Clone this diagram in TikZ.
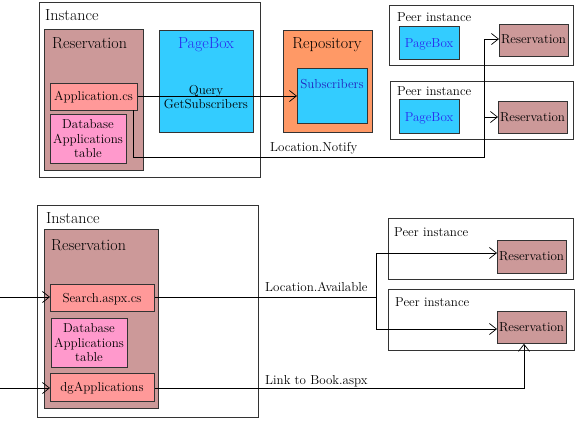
\documentclass[tikz,border=0pt]{standalone}
\usetikzlibrary{arrows.meta}
\definecolor{resv}{HTML}{CC9999}
\definecolor{pagebox}{HTML}{33CCFF}
\definecolor{repo}{HTML}{FF9966}
\definecolor{appcs}{HTML}{FF9999}
\definecolor{dbtab}{HTML}{FF99CC}
\definecolor{pbtext}{HTML}{2A2AEE}
\definecolor{frame}{HTML}{333333}
\tikzset{
 box/.style={draw=frame, line width=0.8pt, inner sep=0pt, anchor=north west},
 big/.style={font=\fontsize{16}{19}\selectfont, inner sep=0pt, anchor=base west},
 small/.style={font=\fontsize{13}{14.5}\selectfont, inner sep=0pt, anchor=base},
 multi/.style={font=\fontsize{13}{14.5}\selectfont, inner sep=0pt, align=center, anchor=center},
 conn/.style={draw=black, line width=0.7pt},
 arr/.style={conn, -{Straight Barb[length=7pt,width=11pt,line width=0.7pt]}}
}
\begin{document}
\begin{tikzpicture}[x=1pt,y=-1pt]
\useasboundingbox (0,0) rectangle (576,432);
% ---------- top part ----------
\node[box, minimum width=221pt, minimum height=175pt] (inst1) at (39,2) {};
\node[big] (inst1l) at (45,20) {Instance};
\node[box, fill=resv, minimum width=99pt, minimum height=141pt] (res1) at (44,29) {};
\node[big] (res1l) at (52,48) {Reservation};
\node[box, fill=pagebox, minimum width=94pt, minimum height=102pt] (pb1) at (159,30) {};
\node[big, anchor=base, text=pbtext] (pb1l) at (206,48) {PageBox};
\node[multi] (query) at (206,97) {Query\\GetSubscribers};
\node[box, fill=appcs, minimum width=87pt, minimum height=27pt] (app) at (50,83) {};
\node[small] (appl) at (93.5,100) {Application.cs};
\node[box, fill=dbtab, minimum width=76pt, minimum height=49pt] (db1) at (50,114) {};
\node[multi] (db1l) at (88,139) {Database\\Applications\\table};
\node[box, fill=repo, minimum width=89pt, minimum height=102pt] (repo) at (283,30) {};
\node[big, anchor=base] (repol) at (327,48) {Repository};
\node[box, fill=pagebox, minimum width=70pt, minimum height=55pt] (subs) at (297,68) {};
\node[small, text=pbtext!80!black] (subsl) at (332,88) {Subscribers};
\node[small, anchor=base west] (notify) at (270,151) {Location.Notify};
% peer instances (top)
\node[box, minimum width=184pt, minimum height=60pt] (peer1) at (389,5) {};
\node[small, anchor=base west] (peer1l) at (397,21) {Peer instance};
\node[box, fill=pagebox, minimum width=60pt, minimum height=33pt] (ppb1) at (399,26) {};
\node[small, text=pbtext] (ppb1l) at (429,47) {PageBox};
\node[box, fill=resv, minimum width=69pt, minimum height=32pt] (pres1) at (499,24) {};
\node[small] (pres1l) at (533.5,43) {Reservation};
\node[box, minimum width=183pt, minimum height=58pt] (peer2) at (390,81) {};
\node[small, anchor=base west] (peer2l) at (397,95) {Peer instance};
\node[box, fill=pagebox, minimum width=60pt, minimum height=34pt] (ppb2) at (399,99) {};
\node[small, text=pbtext] (ppb2l) at (429,121) {PageBox};
\node[box, fill=resv, minimum width=69pt, minimum height=32pt] (pres2) at (498,101) {};
\node[small] (pres2l) at (532.5,121) {Reservation};
% connectors (top)
\coordinate (appdown) at (133,110);
\coordinate (c1) at (133,157);
\coordinate (c2) at (484,157);
\coordinate (c3) at (484,39);
\coordinate (c4) at (484,117);
\draw[arr] (app.east |- 0,96) -- (subs.west |- 0,96);
\draw[conn] (appdown) -- (c1) -- (c2) -- (c3);
\draw[arr] (c3) -- (pres1.west |- c3);
\draw[arr] (c4) -- (pres2.west |- c4);
% ---------- bottom part ----------
\node[box, minimum width=221pt, minimum height=212pt] (inst2) at (37,205) {};
\node[big] (inst2l) at (46,223) {Instance};
\node[box, fill=resv, minimum width=114pt, minimum height=179pt] (res2) at (44,229) {};
\node[big] (res2l) at (51,250) {Reservation};
\node[box, fill=appcs, minimum width=104pt, minimum height=27pt] (search) at (50,284) {};
\node[small] (searchl) at (102,302) {Search.aspx.cs};
\node[box, fill=dbtab, minimum width=76pt, minimum height=49pt] (db2) at (51,318) {};
\node[multi] (db2l) at (89,343) {Database\\Applications\\table};
\node[box, fill=appcs, minimum width=104pt, minimum height=28pt] (dg) at (50,373) {};
\node[small] (dgl) at (102,391) {dgApplications};
\node[small, anchor=base west] (avail) at (265,291) {Location.Available};
\node[small, anchor=base west] (link) at (265,384) {Link to Book.aspx};
% peer instances (bottom)
\node[box, minimum width=185pt, minimum height=61pt] (peer3) at (388,218) {};
\node[small, anchor=base west] (peer3l) at (394,236) {Peer instance};
\node[box, fill=resv, minimum width=69pt, minimum height=33pt] (pres3) at (497,240) {};
\node[small] (pres3l) at (531.5,260) {Reservation};
\node[box, minimum width=186pt, minimum height=61pt] (peer4) at (388,289) {};
\node[small, anchor=base west] (peer4l) at (395,306) {Peer instance};
\node[box, fill=resv, minimum width=69pt, minimum height=32pt] (pres4) at (497,311) {};
\node[small] (pres4l) at (531.5,331) {Reservation};
% connectors (bottom)
\coordinate (in1) at (0,297);
\coordinate (in2) at (0,388);
\coordinate (b1) at (376,297);
\coordinate (b2) at (376,253);
\coordinate (b3) at (376,329);
\coordinate (b4) at (524,388);
\draw[arr] (in1) -- (search.west |- in1);
\draw[arr] (in2) -- (dg.west |- in2);
\draw[conn] (search.east |- b1) -- (b1);
\draw[conn] (b2) -- (b3);
\draw[arr] (b2) -- (pres3.west |- b2);
\draw[arr] (b3) -- (pres4.west |- b3);
\draw[arr] (dg.east |- b4) -- (b4) -- (b4 |- pres4.south);
\end{tikzpicture}
\end{document}
